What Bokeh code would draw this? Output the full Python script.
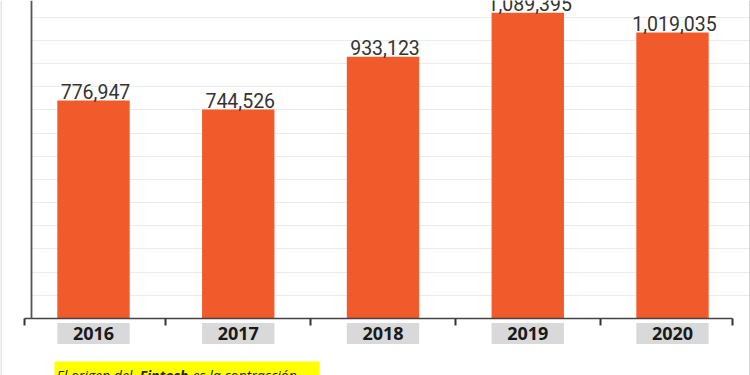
from bokeh.plotting import figure
from bokeh.models import Range1d, FixedTicker, BoxAnnotation, Label, Span
from bokeh.core.properties import value
from bokeh.embed import file_html
from bokeh.resources import INLINE

# ---- data ----
years = ["2016", "2017", "2018", "2019", "2020"]
totals = [776947, 744526, 933123, 1089395, 1019035]
value_labels = ["776,947", "744,526", "933,123", "1,089,395", "1,019,035"]
grid_step = 82600
caption_parts = ["El origen del ", "Fintech", " es la contracción"]

# ---- layout / style ----
W, H = 750, 375
PX_PER_X = 144.75
Y_PER_PX = 3564.0
X0 = -93 / PX_PER_X
X1 = X0 + W / PX_PER_X
Y1 = 318 * Y_PER_PX
Y0 = Y1 - H * Y_PER_PX


def px2x(page_x):
    return X0 + page_x / PX_PER_X


def py2y(page_y):
    return Y1 - page_y * Y_PER_PX


BAR = "#F15A2B"
xs = list(range(len(years)))

p = figure(width=W, height=H, output_backend="svg", toolbar_location=None,
           x_range=Range1d(X0, X1), y_range=Range1d(Y0, Y1),
           min_border=0, min_border_left=0, min_border_right=0,
           min_border_top=0, min_border_bottom=0)
p.outline_line_color = None
p.background_fill_color = "white"
p.border_fill_color = "white"
p.xgrid.visible = False

grid_ticks = [grid_step * k for k in range(1, 14)]

# y axis: plain line, no ticks/labels
yax = p.yaxis[0]
yax.fixed_location = px2x(30.5)
yax.bounds = (0, Y1)
yax.ticker = FixedTicker(ticks=grid_ticks)
yax.axis_line_color = "#555555"
yax.axis_line_width = 1.8
yax.major_tick_line_color = None
yax.minor_tick_line_color = None
yax.major_label_text_color = None
yax.major_label_text_font_size = "0px"

p.ygrid.grid_line_color = "#ebebeb"
p.ygrid.grid_line_width = 1

# x axis at zero with boundary ticks
xb0, xb1 = px2x(23.5), px2x(732)
xax = p.xaxis[0]
xax.fixed_location = 0
xax.bounds = (xb0, xb1)
xax.ticker = FixedTicker(ticks=xs,
                         minor_ticks=[xb0 + 0.001] + [i + 0.5 for i in xs[:-1]] + [xb1 - 0.001])
xax.axis_line_color = "#444444"
xax.axis_line_width = 1.5
xax.major_tick_line_color = None
xax.major_tick_in = 0
xax.major_tick_out = 0
xax.minor_tick_line_color = "#333333"
xax.minor_tick_line_width = 2
xax.minor_tick_in = 0
xax.minor_tick_out = 7
xax.major_label_text_color = None
xax.major_label_text_font_size = "0px"

# hide grid left of the y axis
p.add_layout(BoxAnnotation(left=X0, right=px2x(29.5), bottom=0, top=Y1,
                           fill_color="white", fill_alpha=1, line_color=None,
                           level="underlay"))

# screenshot frame edges
p.add_layout(Span(location=px2x(0.5), dimension="height", line_color="#dddddd", line_width=1.5))
p.add_layout(Span(location=px2x(749.5), dimension="height", line_color="#aaaaaa", line_width=1))

# bars
p.vbar(x=xs, top=totals, width=0.5, fill_color=BAR, line_color=None)

# value labels
p.text(x=xs, y=totals, text=value_labels, text_align="center",
       text_baseline="alphabetic", y_offset=-9, x_offset=2,
       text_font=value("Roboto"), text_font_size="19.5px", text_color="#333333")

# year label boxes and labels
p.rect(x=xs, y=py2y(333), width=0.5, height=21, height_units="screen",
       fill_color="#d9d9d9", line_color=None)
p.text(x=xs, y=py2y(333), text=years, text_align="center", text_baseline="middle",
       text_font=value("Open Sans"), text_font_style="bold", text_font_size="18px",
       text_color="#1a1a1a")

# caption (yellow highlight)
p.add_layout(BoxAnnotation(left=px2x(54), right=px2x(319), top=py2y(361), bottom=Y0,
                           fill_color="#FFFF00", fill_alpha=1, line_color=None))
cap_x = [56, 139, 192]
cap_style = ["italic", "bold italic", "italic"]
for t, cx, st in zip(caption_parts, cap_x, cap_style):
    p.add_layout(Label(x=px2x(cx), y=py2y(375), text=t, text_align="left",
                       text_baseline="alphabetic", text_font="Open Sans",
                       text_font_style=st, text_font_size="14px",
                       text_color="#222222"))

open("out.html", "w").write(file_html(p, INLINE))
